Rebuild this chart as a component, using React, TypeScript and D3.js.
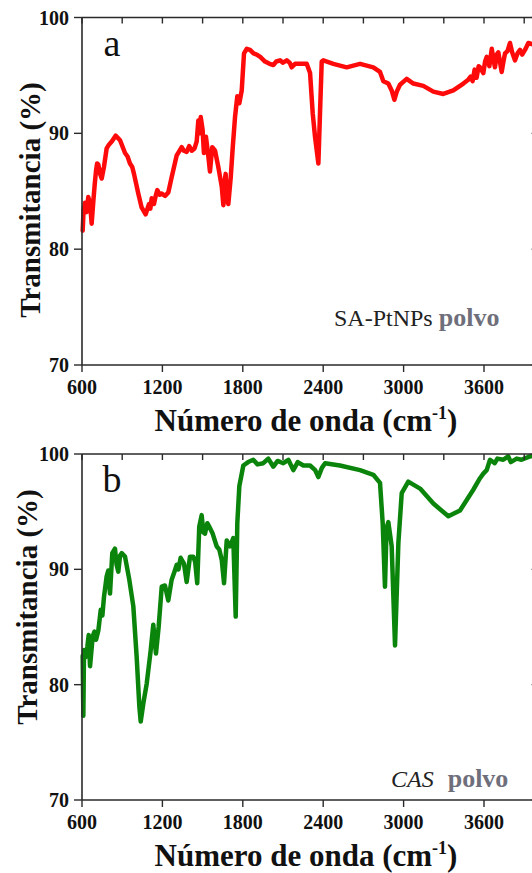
import React from "react";
import * as d3 from "d3";

const wavenumbersA = [605, 612, 622, 635, 647, 660, 672, 685, 695, 705, 713, 722, 735, 747, 764, 784, 800, 822, 851, 884, 921, 940, 958, 975, 988, 1020, 1045, 1075, 1100, 1110, 1120, 1137, 1150, 1162, 1180, 1195, 1220, 1244, 1269, 1307, 1344, 1360, 1381, 1400, 1419, 1440, 1456, 1468, 1476, 1486, 1500, 1510, 1525, 1543, 1555, 1572, 1593, 1617, 1643, 1655, 1662, 1672, 1682, 1692, 1710, 1725, 1742, 1759, 1774, 1792, 1809, 1830, 1854, 1880, 1904, 1930, 1966, 2000, 2028, 2050, 2078, 2100, 2128, 2150, 2165, 2190, 2227, 2277, 2302, 2322, 2339, 2364, 2376, 2389, 2401, 2476, 2575, 2675, 2774, 2824, 2849, 2886, 2911, 2931, 2949, 2973, 3023, 3073, 3147, 3222, 3296, 3371, 3446, 3480, 3500, 3515, 3530, 3545, 3560, 3570, 3595, 3608, 3620, 3640, 3658, 3670, 3682, 3695, 3707, 3720, 3732, 3745, 3757, 3775, 3794, 3810, 3831, 3850, 3869, 3885, 3906, 3931, 3956, 4000];
const transmittanceA = [81.6, 83.4, 84.0, 83.2, 84.5, 84.0, 82.2, 84.2, 85.6, 86.8, 87.4, 87.3, 86.5, 86.1, 87.1, 88.7, 89.0, 89.3, 89.8, 89.4, 88.3, 88.0, 87.4, 87.1, 86.5, 84.8, 83.6, 83.0, 83.9, 83.5, 84.4, 83.9, 84.6, 85.1, 84.7, 84.8, 84.6, 84.9, 86.2, 88.1, 88.8, 88.5, 88.4, 88.9, 88.5, 88.7, 89.3, 91.1, 90.0, 91.4, 90.3, 88.3, 89.7, 88.0, 86.7, 88.8, 88.5, 87.1, 85.4, 83.8, 85.6, 86.5, 84.2, 83.9, 86.2, 88.8, 91.4, 93.2, 92.6, 93.7, 96.9, 97.3, 97.2, 96.9, 96.8, 96.6, 96.2, 96.0, 95.9, 96.2, 96.3, 96.1, 96.3, 96.1, 95.7, 96.0, 96.0, 96.0, 95.2, 91.7, 89.7, 87.4, 91.7, 96.2, 96.3, 96.0, 95.7, 96.0, 95.7, 95.3, 94.5, 94.3, 93.7, 92.9, 93.6, 94.2, 94.7, 94.3, 94.1, 93.6, 93.4, 93.7, 94.3, 94.6, 94.9, 94.5, 95.5, 94.8, 95.8, 95.7, 95.2, 96.2, 96.6, 95.8, 97.3, 96.4, 95.7, 96.8, 97.0, 96.1, 95.3, 96.2, 96.9, 97.1, 97.8, 97.0, 96.3, 96.9, 97.2, 96.8, 97.2, 97.8, 97.7, 97.6];

const wavenumbersB = [605, 610, 615, 628, 640, 650, 660, 680, 693, 705, 722, 740, 752, 764, 784, 796, 809, 826, 846, 858, 871, 884, 896, 921, 953, 983, 1008, 1028, 1038, 1058, 1083, 1113, 1132, 1152, 1172, 1195, 1219, 1244, 1269, 1290, 1307, 1320, 1336, 1361, 1381, 1406, 1431, 1445, 1460, 1475, 1493, 1506, 1518, 1535, 1550, 1575, 1605, 1625, 1643, 1660, 1680, 1690, 1705, 1729, 1747, 1759, 1774, 1804, 1840, 1878, 1910, 1953, 1990, 2028, 2060, 2102, 2140, 2177, 2210, 2252, 2302, 2340, 2364, 2390, 2414, 2525, 2675, 2774, 2824, 2844, 2861, 2873, 2886, 2911, 2936, 2961, 2986, 3035, 3123, 3222, 3334, 3421, 3520, 3570, 3595, 3620, 3645, 3680, 3700, 3744, 3780, 3800, 3844, 3880, 3943, 4000];
const transmittanceB = [82.5, 77.3, 83.0, 82.4, 83.3, 84.3, 81.6, 84.2, 84.6, 83.9, 84.7, 86.5, 86.0, 87.6, 89.4, 89.9, 87.9, 91.4, 91.8, 90.4, 89.8, 91.2, 91.4, 91.1, 89.1, 86.8, 82.4, 78.1, 76.8, 78.4, 80.1, 83.0, 85.2, 82.7, 85.0, 88.5, 88.6, 87.3, 89.1, 89.8, 90.4, 90.0, 91.0, 90.5, 88.9, 91.1, 91.1, 90.6, 88.8, 93.7, 94.7, 93.2, 93.1, 94.0, 93.7, 93.1, 92.0, 91.7, 90.8, 88.8, 92.5, 92.3, 92.0, 92.7, 85.9, 94.0, 97.2, 99.0, 99.3, 99.5, 99.1, 99.2, 99.6, 98.9, 99.4, 99.2, 99.5, 98.6, 99.3, 99.0, 99.0, 98.6, 98.0, 98.8, 99.2, 99.0, 98.6, 98.2, 97.5, 94.0, 88.5, 93.6, 94.1, 92.0, 83.4, 92.3, 96.6, 97.6, 97.0, 95.7, 94.6, 95.1, 96.9, 97.9, 98.3, 98.6, 99.5, 99.2, 99.6, 99.5, 99.8, 99.3, 99.6, 99.5, 99.8, 99.8];

const xMajorTicks = [600, 1200, 1800, 2400, 3000, 3600];
const xMinorTicks = [600, 900, 1200, 1500, 1800, 2100, 2400, 2700, 3000, 3300, 3600, 3900];
const yTicks = [70, 80, 90, 100];

const SERIF = "'Liberation Serif', 'Times New Roman', serif";

type PanelProps = {
  top: number;
  bottom: number;
  waves: number[];
  values: number[];
  color: string;
  letter: string;
  titleX: number;
  titleY: number;
  label: React.ReactNode;
};

const LEFT = 82;
const RIGHT = 537.6;

function Panel({ top, bottom, waves, values, color, letter, titleX, titleY, label }: PanelProps) {
  const x = d3.scaleLinear().domain([600, 4000]).range([LEFT, RIGHT]);
  const y = d3.scaleLinear().domain([70, 100]).range([bottom, top]);
  const pts = waves.map((w, i) => [w, values[i]] as [number, number]);
  const line = d3
    .line<[number, number]>()
    .x((d) => x(d[0]))
    .y((d) => y(d[1]));
  const axisColor = "#2a2a2a";
  return (
    <g>
      <path d={line(pts) || ""} fill="none" stroke={color} strokeWidth={4.5} strokeLinejoin="round" strokeLinecap="round" />
      <line x1={LEFT} x2={LEFT} y1={top} y2={bottom} stroke={axisColor} strokeWidth={1.6} />
      <line x1={LEFT} x2={RIGHT} y1={bottom} y2={bottom} stroke={axisColor} strokeWidth={1.6} />
      <line x1={LEFT} x2={RIGHT} y1={top} y2={top} stroke={axisColor} strokeWidth={1.6} />
      <line x1={RIGHT} x2={RIGHT} y1={top} y2={bottom} stroke={axisColor} strokeWidth={1.6} />
      {xMinorTicks.map((t) => (
        <line key={"tt" + t} x1={x(t)} x2={x(t)} y1={top} y2={top + 6} stroke={axisColor} strokeWidth={1.4} />
      ))}
      {xMajorTicks.map((t) => (
        <g key={"bt" + t}>
          <line x1={x(t)} x2={x(t)} y1={bottom} y2={bottom + 7} stroke={axisColor} strokeWidth={1.4} />
          <text x={x(t)} y={bottom + 29} textAnchor="middle" fontFamily={SERIF} fontWeight="bold" fontSize={20} fill="#111">
            {t}
          </text>
        </g>
      ))}
      {yTicks.map((t) => (
        <g key={"yt" + t}>
          <line x1={LEFT - 8} x2={LEFT} y1={y(t)} y2={y(t)} stroke={axisColor} strokeWidth={1.4} />
          <line x1={RIGHT - 6} x2={RIGHT} y1={y(t)} y2={y(t)} stroke={axisColor} strokeWidth={1.4} />
          <text x={LEFT - 13} y={y(t)} dy="0.35em" textAnchor="end" fontFamily={SERIF} fontWeight="bold" fontSize={20} fill="#111">
            {t}
          </text>
        </g>
      ))}
      <text x={112} y={top + 38} textAnchor="middle" fontFamily={SERIF} fontSize={38} fill="#111">
        {letter}
      </text>
      <text
        transform={`translate(${titleX},${titleY}) rotate(-90)`}
        textAnchor="middle"
        fontFamily={SERIF}
        fontWeight="bold"
        fontSize={29}
        fill="#111"
      >
        Transmitancia (%)
      </text>
      <text x={306} y={bottom + 66} textAnchor="middle" fontFamily={SERIF} fontWeight="bold" fontSize={31} fill="#111">
        Número de onda (cm
        <tspan dy={-12} fontSize={18}>-1</tspan>
        <tspan dy={12}>)</tspan>
      </text>
      {label}
    </g>
  );
}

export default function App() {
  return (
    <svg width={532} height={873} style={{ position: "absolute", left: 0, top: 0, background: "#fff" }}>
      <rect width={532} height={873} fill="#fff" />
      <Panel
        top={17.5}
        bottom={365}
        waves={wavenumbersA}
        values={transmittanceA}
        color="#ff0a0a"
        letter="a"
        titleX={40}
        titleY={200}
        label={
          <text x={334} y={326} fontFamily={SERIF} fontSize={24} fill="#222">
            SA-PtNPs{" "}
            <tspan fontWeight="bold" fontSize={26} fill="#6f6f7c">polvo</tspan>
          </text>
        }
      />
      <Panel
        top={454}
        bottom={800}
        waves={wavenumbersB}
        values={transmittanceB}
        color="#0a840a"
        letter="b"
        titleX={37}
        titleY={607}
        label={
          <text x={391} y={787} fontFamily={SERIF} fontSize={24} fill="#222">
            <tspan fontStyle="italic">CAS</tspan>
            <tspan dx={14} fontWeight="bold" fontSize={26} fill="#6f6f7c">polvo</tspan>
          </text>
        }
      />
    </svg>
  );
}
